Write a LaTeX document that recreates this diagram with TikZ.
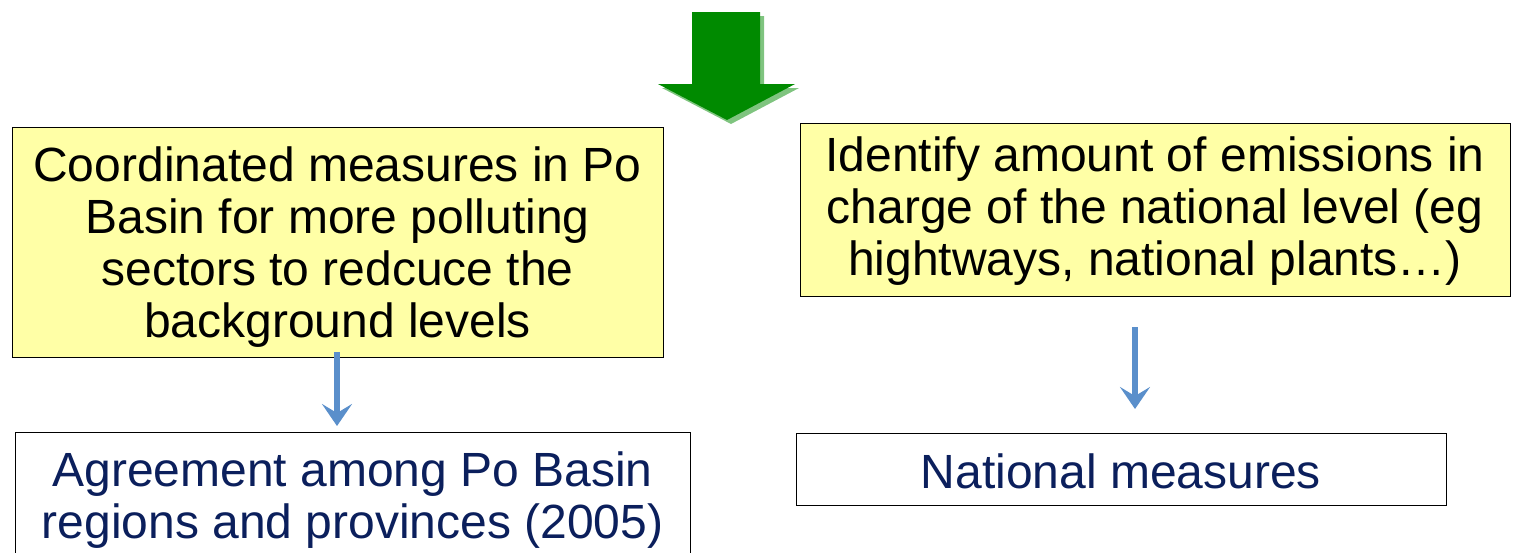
\documentclass[tikz,border=0pt]{standalone}
\usepackage{fontspec}
\setmainfont{Liberation Sans}
\usepackage{xcolor}
\usepackage{tikz}
\usetikzlibrary{calc,arrows.meta}
\definecolor{note}{HTML}{FFFFA6}
\definecolor{navy}{HTML}{0B1F5C}
\definecolor{arrowblue}{HTML}{5A8FCB}
\definecolor{darkgreen}{HTML}{008A00}
\definecolor{shadegreen}{HTML}{7FC47F}
\tikzset{
  notebox/.style={draw=black, line width=0.8pt, fill=note, inner sep=0pt},
  resultbox/.style={draw=black, line width=0.8pt, fill=white, inner sep=0pt},
  notetext/.style={align=center, inner sep=0pt, font=\fontsize{48}{52}\selectfont, text=black},
  resulttext/.style={align=center, inner sep=0pt, font=\fontsize{48}{52}\selectfont, text=navy},
  barrow/.style={draw=arrowblue, line width=6pt, -{Stealth[length=22pt,width=30pt,inset=9pt]}}
}

\begin{document}
\begin{tikzpicture}[x=1pt,y=-1pt]
  \useasboundingbox (0,0) rectangle (1518,552);

  % green arrow with shadow
  \fill[shadegreen] (696,16) -- (764,16) -- (764,88) -- (799,88) -- (731,124) -- (662,88) -- (696,88) -- cycle;
  \fill[darkgreen] (692,12) -- (760,12) -- (760,84) -- (795,84) -- (727,120) -- (658,84) -- (692,84) -- cycle;

  % yellow boxes
  \node[notebox, minimum width=651pt, minimum height=230pt] (ly) at (337.5,242) {};
  \node[notetext] (lyt) at ([yshift=-5pt]ly.center)
    {Coordinated measures in Po\\Basin for more polluting\\sectors to redcuce the\\background levels};
  \node[notebox, minimum width=710pt, minimum height=173pt] (ry) at (1155,209.5) {};
  \node[notetext] (ryt) at ([yshift=-2pt]ry.center)
    {Identify amount of emissions in\\charge of the national level (eg\\hightways, national plants\dots)};

  % result boxes
  \node[resultbox, minimum width=675pt, minimum height=140pt, anchor=north west] (lw) at (15,432) {};
  \node[resulttext] (lwt) at (352.5,500)
    {Agreement among Po Basin\\regions and provinces (2005)};
  \node[resultbox, minimum width=650pt, minimum height=72pt] (rw) at (1121,469) {};
  \node[resulttext] (rwt) at ([yshift=-2pt]rw.center) {National measures};

  \coordinate (la) at (337,352);
  \coordinate (lb) at (337,426);
  \coordinate (ra) at (1135,327);
  \coordinate (rb) at (1135,409);
  \draw[barrow] (la) -- (lb);
  \draw[barrow] (ra) -- (rb);
\end{tikzpicture}
\end{document}
